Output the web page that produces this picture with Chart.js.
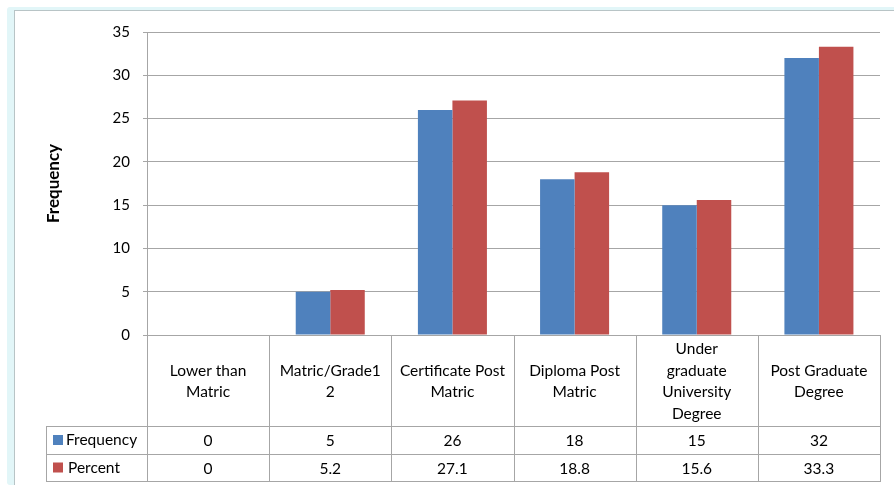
<!DOCTYPE html>
<html>
<head>
<meta charset="utf-8">
<script src="https://cdn.jsdelivr.net/npm/chart.js@4.4.1/dist/chart.umd.min.js"></script>
<style>
  body { margin: 0; background: #fff; }
  #wrap { position: relative; width: 896px; height: 488px; overflow: hidden; }
  #frameL { position: absolute; left: 7px; top: 7px; width: 7px; height: 478px; background: #e2f6f8; border-right: 1px solid #b8c4c6; border-radius: 3px 0 0 3px; }
  #frameT { position: absolute; left: 14px; top: 7px; width: 880px; height: 3px; background: #e2f6f8; border-bottom: 1px solid #b8c4c6; }
  canvas { position: absolute; left: 0; top: 0; }
</style>
</head>
<body>
<div id="wrap">
  <div id="frameL"></div>
  <div id="frameT"></div>
  <canvas id="chart" width="896" height="488"></canvas>
</div>
<script>
// data
const categories = [
  ['Lower than', 'Matric'],
  ['Matric/Grade1', '2'],
  ['Certificate Post', 'Matric'],
  ['Diploma Post', 'Matric'],
  ['Under', 'graduate', 'University', 'Degree'],
  ['Post Graduate', 'Degree']
];
const frequency = [0, 5, 26, 18, 15, 32];
const percent = [0, 5.2, 27.1, 18.8, 15.6, 33.3];
const seriesNames = ['Frequency', 'Percent'];
const yMin = 0, yMax = 35, yStep = 5;

const blue = '#4f81bd';
const red = '#c0504d';
const gridColor = '#a6a6a6';
const fontFamily = "Lato, 'Open Sans', sans-serif";

// data table under the plot, columns follow the x scale
const dataTablePlugin = {
  id: 'dataTable',
  afterDraw(chart) {
    const ctx = chart.ctx;
    const xs = chart.scales.x;
    const area = chart.chartArea;
    const n = categories.length;
    const colW = (area.right - area.left) / n;
    const catTop = area.bottom;
    const catBottom = catTop + 91;
    const row1Bottom = catBottom + 28;
    const row2Bottom = row1Bottom + 27;
    const legendLeft = 46;

    ctx.save();
    ctx.strokeStyle = gridColor;
    ctx.lineWidth = 1;
    const hline = (x1, x2, y) => {
      ctx.beginPath(); ctx.moveTo(x1, Math.round(y) + 0.5); ctx.lineTo(x2, Math.round(y) + 0.5); ctx.stroke();
    };
    const vline = (x, y1, y2) => {
      ctx.beginPath(); ctx.moveTo(Math.round(x) + 0.5, y1); ctx.lineTo(Math.round(x) + 0.5, y2); ctx.stroke();
    };
    hline(area.left, area.right, catTop);
    hline(legendLeft, area.right, catBottom);
    hline(legendLeft, area.right, row1Bottom);
    hline(legendLeft, area.right, row2Bottom);
    for (let i = 0; i <= n; i++) {
      const x = i < n ? xs.getPixelForValue(i) - colW / 2 : area.right;
      vline(x, catTop, row2Bottom + 1);
    }
    vline(legendLeft, catBottom, row2Bottom + 1);

    ctx.fillStyle = '#000';
    ctx.font = '15.5px ' + fontFamily;
    ctx.textAlign = 'center';
    ctx.textBaseline = 'middle';
    const lh = 21.7;
    categories.forEach((lines, i) => {
      const cx = xs.getPixelForValue(i);
      const mid = (catTop + catBottom) / 2;
      lines.forEach((t, k) => {
        ctx.fillText(t, cx, mid + (k - (lines.length - 1) / 2) * lh + 1);
      });
      ctx.fillText(String(frequency[i]), cx, (catBottom + row1Bottom) / 2 + 1);
      ctx.fillText(String(percent[i]), cx, (row1Bottom + row2Bottom) / 2 + 1);
    });

    // legend keys
    ctx.textAlign = 'left';
    const rows = [(catBottom + row1Bottom) / 2, (row1Bottom + row2Bottom) / 2];
    [blue, red].forEach((c, k) => {
      ctx.fillStyle = c;
      ctx.fillRect(53, rows[k] - 5, 10, 10);
      ctx.fillStyle = '#000';
      ctx.fillText(seriesNames[k], k === 0 ? 66 : 68, rows[k]);
    });
    ctx.restore();
  }
};

new Chart(document.getElementById('chart'), {
  type: 'bar',
  data: {
    labels: categories,
    datasets: [
      { label: seriesNames[0], data: frequency, backgroundColor: blue },
      { label: seriesNames[1], data: percent, backgroundColor: red }
    ]
  },
  options: {
    responsive: false,
    animation: false,
    devicePixelRatio: 1,
    layout: { padding: { left: 20, top: 32, right: 16, bottom: 153 } },
    datasets: { bar: { categoryPercentage: 0.565, barPercentage: 1.0 } },
    plugins: { legend: { display: false }, tooltip: { enabled: false } },
    scales: {
      x: {
        ticks: { display: false },
        grid: { display: false },
        border: { display: true, color: gridColor },
        afterFit(scale) { scale.height = 0; }
      },
      y: {
        min: yMin,
        max: yMax,
        ticks: { stepSize: yStep, padding: 13, color: '#000', font: { family: fontFamily, size: 15 } },
        grid: { color: gridColor, tickLength: 4 },
        border: { display: true, color: gridColor },
        title: {
          display: true,
          text: 'Frequency',
          color: '#000',
          font: { family: fontFamily, size: 17, weight: 'bold' },
          padding: { top: 23, bottom: 0 }
        },
        afterFit(scale) { scale.width = 127; }
      }
    }
  },
  plugins: [dataTablePlugin]
});
</script>
</body>
</html>
